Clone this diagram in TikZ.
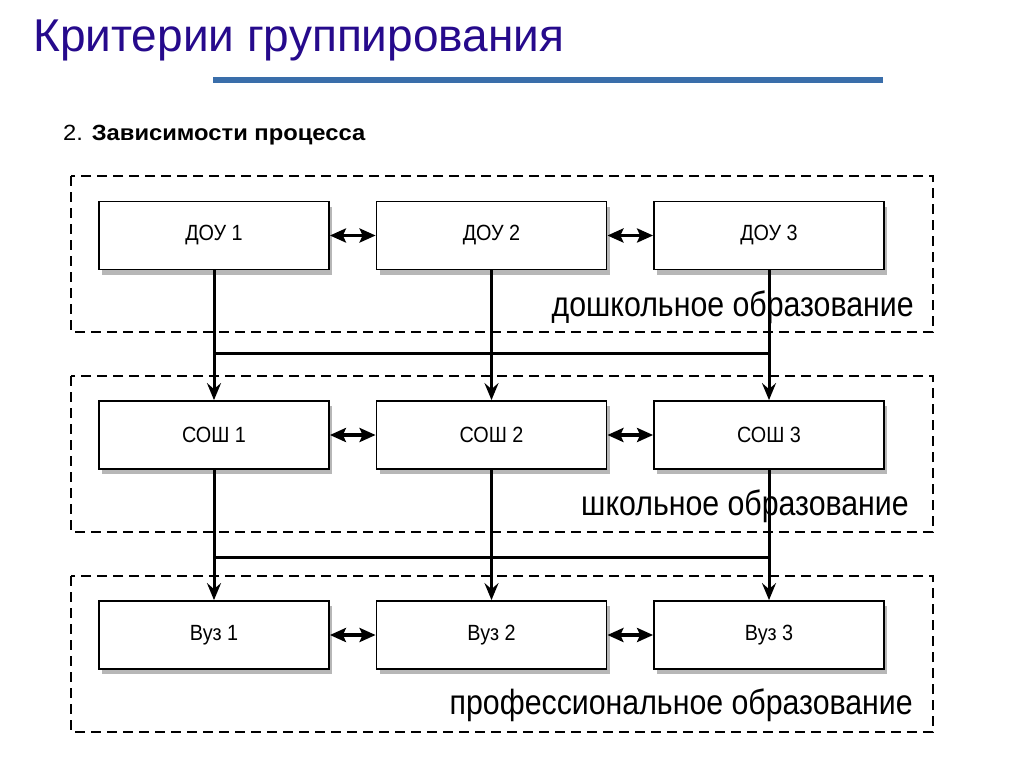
\documentclass[tikz,border=0pt]{standalone}
\usepackage{fontspec}
\setmainfont{Liberation Sans}
\newfontfamily\boxfont[FakeStretch=0.9]{Liberation Sans}
\newfontfamily\grpfont[FakeStretch=0.866]{Liberation Sans}
\newfontfamily\subfont[FakeStretch=1.08]{Liberation Sans}
\usetikzlibrary{arrows.meta,shadows}
\definecolor{titlecol}{RGB}{38,10,140}
\definecolor{rulecol}{RGB}{58,110,170}
\begin{document}
\begin{tikzpicture}[x=1pt,y=-1pt,
  unitbox/.style={draw=black,line width=1.8pt,fill=white,minimum width=230pt,minimum height=68pt,inner sep=0pt,
    font=\fontsize{22}{22}\boxfont,
    drop shadow={shadow xshift=3pt,shadow yshift=-5pt,opacity=0.4,fill=black!70}},
  grp/.style={draw=black,line width=1.8pt,dash pattern=on 10pt off 6pt},
  grplabel/.style={anchor=base east,inner sep=0pt,font=\fontsize{35}{35}\grpfont},
  flow/.style={draw=black,line width=3pt},
  down/.style={flow,-{Stealth[length=17pt,width=14pt,inset=6pt]}},
  link/.style={draw=black,line width=3.2pt,{Stealth[length=16pt,width=14pt,inset=3pt]}-{Stealth[length=16pt,width=14pt,inset=3pt]}}
  ]
\useasboundingbox (0,0) rectangle (1024,768);
\fill[white] (0,0) rectangle (1024,768);
% title
\node[anchor=base west,inner sep=0pt,text=titlecol,font=\fontsize{46}{46}\selectfont] (title) at (33,52) {Критерии группирования};
\draw[rulecol,line width=6pt] (213,80) -- (883,80);
\node[anchor=base west,inner sep=0pt,font=\fontsize{22}{22}\subfont] (sub) at (63,140) {2. \textbf{Зависимости процесса}};
% group frames
\draw[grp] (71,176) rectangle (933,332);
\draw[grp] (71,376) rectangle (933,532);
\draw[grp] (71,576) rectangle (933,732);
\node[grplabel] (l1) at (914,316) {дошкольное образование};
\node[grplabel] (l2) at (909,515) {школьное образование};
\node[grplabel] (l3) at (913,714) {профессиональное образование};
% boxes
\node[unitbox] (d1) at (214,235.5) {ДОУ 1};
\node[unitbox] (d2) at (491.5,235.5) {ДОУ 2};
\node[unitbox] (d3) at (769,235.5) {ДОУ 3};
\node[unitbox] (s1) at (214,435) {СОШ 1};
\node[unitbox] (s2) at (491.5,435) {СОШ 2};
\node[unitbox] (s3) at (769,435) {СОШ 3};
\node[unitbox] (v1) at (214,635) {Вуз 1};
\node[unitbox] (v2) at (491.5,635) {Вуз 2};
\node[unitbox] (v3) at (769,635) {Вуз 3};
% horizontal links
\draw[link] (d1.east) -- (d2.west);
\draw[link] (d2.east) -- (d3.west);
\draw[link] (s1.east) -- (s2.west);
\draw[link] (s2.east) -- (s3.west);
\draw[link] (v1.east) -- (v2.west);
\draw[link] (v2.east) -- (v3.west);
% bus lines
\coordinate (j1) at (214,353);
\coordinate (j3) at (769,353);
\coordinate (k1) at (214,557);
\coordinate (k3) at (769,557);
\draw[flow] (j1) -- (j3);
\draw[flow] (k1) -- (k3);
% vertical flows
\draw[down] (d1.south) -- (s1.north);
\draw[down] (d2.south) -- (s2.north);
\draw[down] (d3.south) -- (s3.north);
\draw[down] (s1.south) -- (v1.north);
\draw[down] (s2.south) -- (v2.north);
\draw[down] (s3.south) -- (v3.north);
\end{tikzpicture}
\end{document}
